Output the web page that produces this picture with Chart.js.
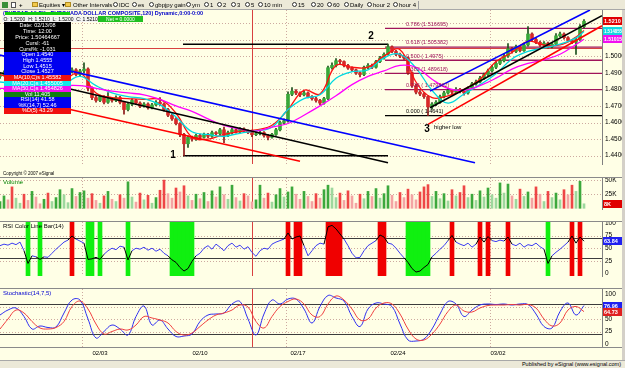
<!DOCTYPE html>
<html>
<head>
<meta charset="utf-8">
<script src="https://cdn.jsdelivr.net/npm/chart.js@4.4.1/dist/chart.umd.min.js"></script>
<style>
  body { margin: 0; width: 625px; height: 368px; overflow: hidden; position: relative;
         background: #FFFFE6; font-family: "Liberation Sans", Arial, sans-serif; }
  .a { position: absolute; white-space: nowrap; }
  canvas { position: absolute; left: 0; }
  #toolbar { left: 0; top: 0; width: 625px; height: 10px; background: #ECE9D8; border-bottom: 1px solid #A8A8A8; box-sizing: border-box; }
  .clk { position: absolute; top: 2px; width: 5px; height: 5px; border: 1px solid #333; border-radius: 50%; background: #fff; box-sizing: border-box; }
  .fld { position: absolute; top: 2px; width: 6px; height: 5px; background: #F2C94C; border: 1px solid #B08A20; box-sizing: border-box; }
  .tbt { position: absolute; top: 1px; font-size: 6px; line-height: 8px; color: #000; }
  .dw { left: 4px; width: 67px; font-size: 5.5px; color: #fff; text-align: center; overflow: hidden; }
  .sep { position: absolute; left: 0; width: 622px; height: 1px; background: #8A8A8A; }
</style>
</head>
<body>
<canvas id="price" width="625" height="167" style="top:10px"></canvas>
<canvas id="volume" width="625" height="44" style="top:178px"></canvas>
<canvas id="rsi" width="625" height="67" style="top:222px"></canvas>
<canvas id="stoch" width="625" height="71" style="top:289px"></canvas>

<div class="sep" style="top:177px"></div>
<div class="sep" style="top:221px"></div>
<div class="sep" style="top:288px"></div>
<div class="sep" style="top:347px"></div>
<div class="a" style="left:622px;top:10px;width:3px;height:350px;background:#D4D0C8"></div>

<div id="toolbar" class="a">
  <div class="a" style="left:2px;top:2px;width:6px;height:6px;background:#3A8F3A"></div>
  <div class="a" style="left:11px;top:2px;width:5px;height:6px;background:#fff;border:1px solid #555;box-sizing:border-box"></div>
  <div class="tbt" style="left:19px;font-weight:bold">+</div>
  <div class="fld" style="left:32px"></div><div class="tbt" style="left:39px">Equities ▾</div>
  <div class="fld" style="left:65px"></div><div class="tbt" style="left:73px">Other Intervals ▾</div>
  <div class="clk" style="left:113px"></div><div class="tbt" style="left:119px">IDC</div>
  <div class="clk" style="left:132px"></div><div class="tbt" style="left:138px">es</div>
  <div class="clk" style="left:149px"></div><div class="tbt" style="left:155px">gbpjpy gain</div>
  <div class="clk" style="left:186px"></div><div class="tbt" style="left:192px">ym</div>
  <div class="clk" style="left:204px"></div><div class="tbt" style="left:210px">1</div>
  <div class="clk" style="left:217px"></div><div class="tbt" style="left:223px">2</div>
  <div class="clk" style="left:231px"></div><div class="tbt" style="left:237px">3</div>
  <div class="clk" style="left:245px"></div><div class="tbt" style="left:251px">5</div>
  <div class="clk" style="left:258px"></div><div class="tbt" style="left:264px">10 min</div>
  <div class="clk" style="left:292px"></div><div class="tbt" style="left:298px">15</div>
  <div class="clk" style="left:311px"></div><div class="tbt" style="left:317px">20</div>
  <div class="clk" style="left:327px"></div><div class="tbt" style="left:333px">60</div>
  <div class="clk" style="left:344px"></div><div class="tbt" style="left:350px">Daily</div>
  <div class="clk" style="left:367px"></div><div class="tbt" style="left:373px">hour 2</div>
  <div class="clk" style="left:393px"></div><div class="tbt" style="left:399px">hour 4</div>
  <div class="a" style="left:418px;top:1px;width:1px;height:8px;background:#A0A0A0"></div>
</div>

<!-- title line and OHLC strip -->
<div class="a" style="left:3px;top:10px;width:67px;overflow:hidden;font-size:5.5px;font-weight:bold;color:#0000C8;line-height:7px">(EURCAD A0-FX - EURO/CAN</div>
<div class="a" style="left:70px;top:10px;font-size:5.5px;font-weight:bold;color:#0000C8;line-height:7px">ADA DOLLAR COMPOSITE,120) Dynamic,0:00-0:00</div>
<div class="a" style="left:5px;top:12px;width:65px;height:3px;background:#10D010"></div>
<div class="a" style="left:2px;top:16px;width:96px;height:6px;background:#F4F4F4;font-size:5px;line-height:6px;color:#000">&nbsp;O: 1.5200 &nbsp;H: 1.5210 &nbsp;L: 1.5200 &nbsp;C: 1.5210</div>
<div class="a" style="left:98px;top:16px;width:45px;height:6px;background:#20C020;font-size:5px;line-height:6px;color:#fff;text-align:center">Net = 0.0000</div>

<!-- data window -->
<div class="a dw" style="top:22px;height:30px;background:#000;line-height:6px">Date: 02/13/08<br>Time: 12:00<br>Price: 1.50464667<br>Cursl: -61<br>Cursl%: -1.031</div>
<div class="a dw" style="top:52px;height:23px;background:#0000F0;line-height:5.75px">Open 1.4540<br>High 1.4555<br>Low 1.4515<br>Close 1.4527</div>
<div class="a dw" style="top:75px;height:5.5px;background:#F01010;line-height:5.5px">MA(10,C)s 1.45582</div>
<div class="a dw" style="top:80.5px;height:5.5px;background:#10E8E8;line-height:5.5px">MA(20,C)s 1.455005</div>
<div class="a dw" style="top:86px;height:5.5px;background:#F010F0;line-height:5.5px">MA(50,C)s 1.454826</div>
<div class="a dw" style="top:91.5px;height:5.5px;background:#108010;line-height:5.5px">Vol 11,405</div>
<div class="a dw" style="top:97px;height:11px;background:#0000F0;line-height:5.5px">RSI(14) 41.58<br>%K(14,7) 52.46</div>
<div class="a dw" style="top:108px;height:5.5px;background:#F01010;line-height:5.5px">%D(5) 43.29</div>

<div class="a" style="left:3px;top:171px;font-size:4.5px;color:#000">Copyright © 2007 eSignal</div>
<div class="a" style="left:3px;top:179px;font-size:6px;color:#008000">Volume</div>
<div class="a" style="left:3px;top:223px;font-size:6px;color:#000">RSI Color Line Bar(14)</div>
<div class="a" style="left:3px;top:290px;font-size:6px;color:#0000D0">Stochastic(14,7,5)</div>

<div class="a" style="left:0;top:360px;width:625px;height:8px;background:#ECE9D8;border-top:1px solid #A8A8A8;box-sizing:border-box"></div>
<div class="a" style="right:4px;top:361px;font-size:5.5px;line-height:7px;color:#000">Published by eSignal (www.esignal.com)</div>

<script>
// ---- price bars (120 min), one value per bar ----
const opens = [
  1.4878,1.4889,1.4900,1.4878,1.4861,1.4889,1.4906,1.4872,1.4844,1.4856,
  1.4833,1.4817,1.4828,1.4806,1.4822,1.4844,1.4867,1.4889,1.4906,1.4917,
  1.4889,1.4911,1.4922,1.4806,1.4750,1.4733,1.4756,1.4722,1.4744,1.4733,
  1.4750,1.4722,1.4678,1.4711,1.4733,1.4717,1.4700,1.4711,1.4689,1.4706,
  1.4722,1.4711,1.4678,1.4644,1.4622,1.4594,1.4528,1.4472,1.4511,1.4500,
  1.4522,1.4511,1.4528,1.4517,1.4539,1.4533,1.4556,1.4522,1.4539,1.4556,
  1.4544,1.4561,1.4550,1.4540,1.4527,1.4533,1.4539,1.4522,1.4511,1.4528,
  1.4556,1.4600,1.4611,1.4770,1.4789,1.4778,1.4767,1.4778,1.4756,1.4744,
  1.4733,1.4717,1.4744,1.4930,1.4944,1.4972,1.4967,1.4944,1.4928,1.4917,
  1.4900,1.4889,1.4933,1.4944,1.4933,1.4967,1.4989,1.5011,1.5056,1.5028,
  1.5011,1.5000,1.4989,1.4900,1.4822,1.4783,1.4772,1.4756,1.4694,1.4711,
  1.4722,1.4756,1.4778,1.4794,1.4783,1.4800,1.4789,1.4778,1.4806,1.4833,
  1.4844,1.4867,1.4889,1.4911,1.4933,1.4956,1.4972,1.5000,1.5044,1.5028,
  1.5056,1.5033,1.5067,1.5133,1.5100,1.5083,1.5067,1.5078,1.5056,1.5072,
  1.5122,1.5133,1.5111,1.5094,1.5083,1.5100,1.5178
];
const highs = [
  1.4900,1.4912,1.4908,1.4885,1.4897,1.4918,1.4910,1.4878,1.4866,1.4860,
  1.4840,1.4836,1.4832,1.4830,1.4850,1.4875,1.4895,1.4915,1.4930,1.4925,
  1.4920,1.4960,1.4930,1.4815,1.4762,1.4765,1.4762,1.4780,1.4752,1.4760,
  1.4758,1.4728,1.4720,1.4742,1.4740,1.4725,1.4720,1.4718,1.4715,1.4732,
  1.4750,1.4718,1.4685,1.4652,1.4630,1.4600,1.4535,1.4520,1.4518,1.4530,
  1.4530,1.4536,1.4535,1.4548,1.4545,1.4565,1.4572,1.4548,1.4565,1.4562,
  1.4570,1.4568,1.4556,1.4555,1.4542,1.4548,1.4545,1.4528,1.4535,1.4565,
  1.4608,1.4622,1.4785,1.4810,1.4798,1.4785,1.4790,1.4785,1.4762,1.4752,
  1.4740,1.4752,1.4940,1.4960,1.4985,1.4980,1.4972,1.4950,1.4935,1.4922,
  1.4906,1.4940,1.4955,1.4952,1.4975,1.4998,1.5020,1.5072,1.5062,1.5035,
  1.5018,1.5006,1.4995,1.4906,1.4830,1.4792,1.4780,1.4762,1.4720,1.4732,
  1.4765,1.4788,1.4806,1.4800,1.4810,1.4806,1.4795,1.4815,1.4842,1.4856,
  1.4878,1.4898,1.4922,1.4945,1.4966,1.4982,1.5012,1.5075,1.5052,1.5066,
  1.5062,1.5078,1.5178,1.5140,1.5108,1.5090,1.5088,1.5085,1.5082,1.5135,
  1.5145,1.5140,1.5118,1.5100,1.5108,1.5190,1.5220
];
const lows = [
  1.4865,1.4880,1.4870,1.4850,1.4855,1.4882,1.4865,1.4835,1.4838,1.4825,
  1.4808,1.4810,1.4798,1.4800,1.4815,1.4838,1.4860,1.4880,1.4898,1.4880,
  1.4882,1.4900,1.4790,1.4738,1.4722,1.4725,1.4712,1.4715,1.4722,1.4725,
  1.4712,1.4650,1.4670,1.4702,1.4708,1.4690,1.4692,1.4680,1.4682,1.4700,
  1.4702,1.4668,1.4635,1.4612,1.4585,1.4515,1.4400,1.4450,1.4488,1.4492,
  1.4502,1.4505,1.4508,1.4510,1.4524,1.4527,1.4478,1.4515,1.4530,1.4535,
  1.4538,1.4542,1.4532,1.4515,1.4520,1.4525,1.4512,1.4495,1.4505,1.4522,
  1.4550,1.4592,1.4602,1.4762,1.4768,1.4756,1.4760,1.4748,1.4735,1.4722,
  1.4706,1.4710,1.4738,1.4922,1.4935,1.4955,1.4935,1.4920,1.4908,1.4890,
  1.4875,1.4882,1.4925,1.4925,1.4928,1.4960,1.4982,1.5005,1.5020,1.5002,
  1.4990,1.4980,1.4890,1.4812,1.4772,1.4762,1.4745,1.4641,1.4680,1.4702,
  1.4715,1.4748,1.4770,1.4772,1.4775,1.4778,1.4765,1.4770,1.4800,1.4825,
  1.4838,1.4860,1.4880,1.4903,1.4925,1.4948,1.4965,1.4992,1.5018,1.5020,
  1.5025,1.5028,1.5060,1.5092,1.5075,1.5058,1.5060,1.5048,1.5050,1.5066,
  1.5115,1.5102,1.5086,1.5075,1.5010,1.5095,1.5170
];
const closes = [
  1.4889,1.4900,1.4878,1.4861,1.4889,1.4906,1.4872,1.4844,1.4856,1.4833,
  1.4817,1.4828,1.4806,1.4822,1.4844,1.4867,1.4889,1.4906,1.4917,1.4889,
  1.4911,1.4922,1.4806,1.4750,1.4733,1.4756,1.4722,1.4744,1.4733,1.4750,
  1.4722,1.4678,1.4711,1.4733,1.4717,1.4700,1.4711,1.4689,1.4706,1.4722,
  1.4711,1.4678,1.4644,1.4622,1.4594,1.4528,1.4472,1.4511,1.4500,1.4522,
  1.4511,1.4528,1.4517,1.4539,1.4533,1.4556,1.4522,1.4539,1.4556,1.4544,
  1.4561,1.4550,1.4540,1.4527,1.4533,1.4539,1.4522,1.4511,1.4528,1.4556,
  1.4600,1.4611,1.4770,1.4789,1.4778,1.4767,1.4778,1.4756,1.4744,1.4733,
  1.4717,1.4744,1.4930,1.4944,1.4972,1.4967,1.4944,1.4928,1.4917,1.4900,
  1.4889,1.4933,1.4944,1.4933,1.4967,1.4989,1.5011,1.5056,1.5028,1.5011,
  1.5000,1.4989,1.4900,1.4822,1.4783,1.4772,1.4756,1.4694,1.4711,1.4722,
  1.4756,1.4778,1.4794,1.4783,1.4800,1.4789,1.4778,1.4806,1.4833,1.4844,
  1.4867,1.4889,1.4911,1.4933,1.4956,1.4972,1.5000,1.5044,1.5028,1.5056,
  1.5033,1.5067,1.5133,1.5100,1.5083,1.5067,1.5078,1.5056,1.5072,1.5122,
  1.5133,1.5111,1.5094,1.5083,1.5100,1.5178,1.5210
];
// volume in thousands
const volumes = [
  12,22,15,38,18,9,25,14,30,20,
  8,16,27,12,19,33,24,10,35,21,
  28,31,18,26,14,9,22,30,16,12,
  24,18,47,20,11,27,15,23,9,19,
  32,50,26,18,36,29,40,22,14,25,
  17,28,12,31,20,38,24,16,41,19,
  13,26,22,11.4,15,41,18,27,11,24,
  35,20,29,38,25,16,30,21,12,26,
  18,33,41,36,19,27,14,31,22,9,
  25,17,30,21,35,18,26,40,23,12,
  28,19,34,24,15,29,38,42,21,30,
  17,26,13,33,22,28,40,19,25,14,
  31,20,36,24,18,45,27,43,22,16,
  34,21,29,18,38,25,12,30,19,27,
  15,33,24,41,30,48,8
];
const rsi = [
  55,58,56,60,57,62,45,20,35,33,
  28,33,32,40,48,55,62,66,74,68,
  64,60,28,29,32,28,38,45,50,47,
  54,52,27,45,50,48,52,46,50,44,
  48,40,35,27,22,12,5,10,24,35,
  40,50,55,48,58,52,45,55,60,52,
  56,48,53,41.58,34,45,50,48,58,62,
  65,68,80,68,72,74,55,35,45,55,
  60,58,92,95,88,78,68,55,40,31,
  32,45,55,60,65,76,72,60,58,50,
  40,31,22,10,3,5,12,18,33,40,
  48,55,65,75,62,58,55,60,52,58,
  72,62,73,65,63,66,64,72,58,55,
  60,52,57,55,60,53,48,20,35,42,
  48,55,62,74,60,72,63.84
];
// stochastic, one value every second bar
const stochK = [
  58,68,72,55,30,36,33,34,62,88,
  88,50,12,25,38,30,18,55,76,38,
  48,30,15,16,20,45,58,60,62,80,
  85,50,18,60,88,80,90,90,70,42,
  75,97,92,86,55,35,70,82,80,75,
  40,8,6,10,30,60,85,80,55,68,
  78,80,79,80,78,80,79,60,35,32,
  65,82,58,76.96
];
const stochD = [
  30,50,68,62,45,32,30,33,45,75,
  86,70,40,20,25,30,28,38,55,52,
  48,42,25,18,22,35,48,58,62,68,
  78,74,45,32,55,75,85,90,80,58,
  55,80,96,88,70,48,50,72,82,80,
  60,30,10,8,20,40,65,78,66,64,
  72,77,78,78,79,78,79,72,50,36,
  42,68,75,64.73
];
// moving averages, one value every fourth bar (last one on the final bar)
const ma10 = [
  1.4889,1.4861,1.4844,1.4833,1.4856,1.4900,1.4778,1.4750,1.4744,1.4739,
  1.4739,1.4656,1.4511,1.4500,1.4528,1.4545,1.4556,1.4583,1.4678,1.4794,
  1.4772,1.4944,1.4933,1.4933,1.5000,1.5039,1.4844,1.4750,1.4761,1.4800,
  1.4861,1.4967,1.5022,1.5089,1.5067,1.5067,1.5115,1.5155
];
const ma20 = [
  1.4844,1.4833,1.4822,1.4817,1.4833,1.4878,1.4822,1.4778,1.4756,1.4744,
  1.4706,1.4633,1.4544,1.4528,1.4517,1.4535,1.4550,1.4572,1.4678,1.4744,
  1.4767,1.4867,1.4906,1.4917,1.4989,1.5011,1.4928,1.4794,1.4717,1.4772,
  1.4828,1.4894,1.4983,1.5028,1.5050,1.5072,1.5110,1.514855
];
const ma50 = [
  1.4806,1.4806,1.4811,1.4817,1.4822,1.4822,1.4806,1.4789,1.4778,1.4767,
  1.4739,1.4700,1.4667,1.4622,1.4583,1.4560,1.4548,1.4572,1.4594,1.4644,
  1.4700,1.4761,1.4828,1.4878,1.4911,1.4944,1.4933,1.4861,1.4806,1.4794,
  1.4822,1.4867,1.4922,1.4956,1.4978,1.5011,1.5070,1.51015
];

// axes
const dateBars = [25, 50, 74.5, 99.5, 124.5];
const dateLabels = ['02/03', '02/10', '02/17', '02/24', '03/02'];
const gridBars = [20.5, 71.5, 122.5];
const priceTicks = [1.44, 1.45, 1.46, 1.47, 1.48, 1.49, 1.50, 1.51, 1.52];
const volTicks = [25, 50];
const oscTicks = [0, 25, 50, 75, 100];

// drawn studies: [bar, price] end points
const blueDown = [[0, 1.5006], [118.75, 1.4358]];
const blackDown = [[0, 1.4900], [97, 1.4358]];
const redDown = [[12, 1.4709], [75, 1.4367]];
const blueUp = [[107.5, 1.4789], [147.5, 1.5278]];
const blackUp = [[107.5, 1.4689], [150.5, 1.5244]];
const redUp = [[107, 1.4589], [150.5, 1.5183]];
const low1Line = [[45.75, 1.4400], [97, 1.4400]];
const high2Line = [[45.75, 1.5072], [97, 1.5072]];
const fibStart = 96.25;
const fibPrices = [1.516695, 1.505382, 1.4975, 1.489618, 1.479862, 1.4641];
const fibLabels = ['0.786 (1.516695)', '0.618 (1.505382)', '0.500 ( 1.4975)', '0.382 (1.489618)', '0.236 ( 1.479862)', '0.000 ( 1.4641)'];
const cursorBar = 63;
const cursorPrice = 1.50464667;

const FONT = 'Liberation Sans';
const xMax = 150.5;
Chart.defaults.font.family = FONT;
Chart.defaults.animation = false;
Chart.defaults.events = [];
Chart.defaults.plugins.legend.display = false;
Chart.defaults.plugins.tooltip.enabled = false;

const bars = closes.map((c, i) => i);
const stochBars = stochK.map((v, j) => j * 2);
const maBars = ma10.map((v, k) => Math.min(k * 4, closes.length - 1));

function hline(ctx, x1, y1, x2, y2) {
  ctx.beginPath(); ctx.moveTo(x1, y1); ctx.lineTo(x2, y2); ctx.stroke();
}

const decor = {
  id: 'decor',
  beforeDatasetsDraw(chart, args, o) {
    const { ctx, chartArea: a, scales: { x, y } } = chart;
    ctx.save();
    ctx.beginPath(); ctx.rect(a.left, a.top, a.right - a.left, a.bottom - a.top); ctx.clip();
    ctx.lineWidth = 1;
    ctx.strokeStyle = '#CDAAA0';
    ctx.setLineDash([1, 2]);
    (o.hgrid || []).forEach(v => { const p = Math.round(y.getPixelForValue(v)) + 0.5; hline(ctx, a.left, p, a.right, p); });
    gridBars.forEach(b => { const p = Math.round(x.getPixelForValue(b)) + 0.5; hline(ctx, p, a.top, p, a.bottom); });
    ctx.setLineDash([]);
    ctx.strokeStyle = '#3C3C3C';
    (o.levels || []).forEach(v => { const p = Math.round(y.getPixelForValue(v)) + 0.5; hline(ctx, a.left, p, a.right, p); });
    ctx.strokeStyle = '#D84040';
    if (o.hcursor) { const p = Math.round(y.getPixelForValue(o.hcursor)) + 0.5; hline(ctx, a.left, p, a.right, p); }
    const c = Math.round(x.getPixelForValue(cursorBar)) + 0.5;
    hline(ctx, c, a.top, c, a.bottom);
    ctx.restore();
  },
  afterDraw(chart, args, o) {
    const { ctx, chartArea: a, scales: { x, y } } = chart;
    ctx.save();
    (o.texts || []).forEach(t => {
      ctx.font = t.font; ctx.fillStyle = t.color;
      ctx.textAlign = t.align || 'left'; ctx.textBaseline = t.base || 'middle';
      ctx.fillText(t.text, x.getPixelForValue(t.x), y.getPixelForValue(t.y) + (t.dy || 0));
    });
    (o.boxes || []).forEach(b => {
      const p = Math.round(y.getPixelForValue(b.value));
      ctx.fillStyle = b.bg; ctx.fillRect(a.right + 1, p - 4, 20, 8);
      ctx.fillStyle = b.fg; ctx.font = 'bold 5.5px ' + FONT;
      ctx.textAlign = 'left'; ctx.textBaseline = 'middle';
      ctx.fillText(b.text, a.right + 2, p + 0.5, 18);
    });
    ctx.restore();
  }
};

function xAxis(show) {
  return {
    type: 'linear', min: 0, max: xMax, offset: false, display: show,
    grid: { display: false, drawTicks: false }, border: { display: false },
    afterBuildTicks: s => { s.ticks = dateBars.map(v => ({ value: v })); },
    ticks: { autoSkip: false, maxRotation: 0, padding: 3, color: '#000', font: { size: 6 },
             callback: (v, i) => dateLabels[i] },
    afterFit: s => { s.height = 13; s.paddingLeft = 0; s.paddingRight = 0; }
  };
}
function yAxis(min, max, ticks, fmt) {
  return {
    type: 'linear', position: 'right', min: min, max: max,
    grid: { display: false, drawTicks: false },
    border: { display: true, color: '#808080' },
    afterBuildTicks: s => { s.ticks = ticks.map(v => ({ value: v })); },
    ticks: { padding: 3, color: '#000', font: { size: 6.5 }, callback: fmt },
    afterFit: s => { s.width = 23; s.paddingTop = 0; s.paddingBottom = 0; }
  };
}
function seg(pts, color, width, order) {
  return { type: 'line', order: order, data: pts.map(p => ({ x: p[0], y: p[1] })),
           borderColor: color, borderWidth: width, pointRadius: 0, tension: 0, fill: false };
}
function maLine(vals, color) {
  return { type: 'line', order: 3, data: maBars.map((b, k) => ({ x: b, y: vals[k] })),
           borderColor: color, borderWidth: 1.3, pointRadius: 0, tension: 0.4, fill: false };
}
const baseOpts = { responsive: false, maintainAspectRatio: false, layout: { padding: 0 } };

// ---- price panel ----
const up = i => closes[i] >= opens[i];
const fibSets = fibPrices.map((p, k) => seg([[fibStart, p], [xMax, p]], k === fibPrices.length - 1 ? '#000000' : '#A0145A', 1.3, 8));
const priceTexts = fibPrices.map((p, k) => ({ x: 101.5, y: p, dy: -1.5, text: fibLabels[k], base: 'bottom',
  color: k === fibPrices.length - 1 ? '#000' : '#A0145A', font: '5.5px ' + FONT }));
priceTexts.push(
  { x: 43.25, y: 1.4400, text: '1', color: '#000', font: 'bold 10px ' + FONT, align: 'center' },
  { x: 92.75, y: 1.5122, text: '2', color: '#000', font: 'bold 10px ' + FONT, align: 'center' },
  { x: 106.75, y: 1.4561, text: '3', color: '#000', font: 'bold 10px ' + FONT, align: 'center' },
  { x: 108.5, y: 1.4572, text: 'higher low', color: '#000', font: '6px ' + FONT }
);

new Chart(document.getElementById('price'), {
  type: 'bar',
  data: { datasets: [
    ...fibSets,
    seg(low1Line, '#000', 1.5, 7),
    seg(high2Line, '#000', 1.5, 7),
    { type: 'bar', order: 6, grouped: false, barThickness: 1,
      data: bars.map(i => ({ x: i, y: [lows[i], highs[i]] })),
      backgroundColor: bars.map(i => up(i) ? '#1C501C' : '#8C1818') },
    { type: 'bar', order: 5, grouped: false, barThickness: 3, minBarLength: 1,
      data: bars.map(i => ({ x: i, y: [opens[i], closes[i]] })),
      backgroundColor: bars.map(i => up(i) ? '#38A838' : '#D82828') },
    maLine(ma50, '#FF00FF'),
    maLine(ma20, '#00D8E0'),
    maLine(ma10, '#FF1010'),
    seg(blueDown, '#0000FF', 1.6, 1),
    seg(blackDown, '#000000', 1.6, 1),
    seg(redDown, '#FF0000', 1.6, 1),
    seg(blueUp, '#0000FF', 1.6, 1),
    seg(blackUp, '#000000', 1.6, 1),
    seg(redUp, '#FF0000', 1.6, 1)
  ]},
  options: { ...baseOpts,
    scales: { x: xAxis(false), y: yAxis(1.435, 1.52778, priceTicks, v => v.toFixed(4)) },
    plugins: { decor: {
      hgrid: priceTicks, hcursor: cursorPrice, texts: priceTexts,
      boxes: [
        { value: ma50[ma50.length - 1], text: String(ma50[ma50.length - 1]), bg: '#F010F0', fg: '#fff' },
        { value: ma20[ma20.length - 1], text: String(ma20[ma20.length - 1]), bg: '#10D8E0', fg: '#fff' },
        { value: closes[closes.length - 1], text: closes[closes.length - 1].toFixed(4), bg: '#E00000', fg: '#fff' }
      ] } } },
  plugins: [decor]
});

// ---- volume panel ----
const volColor = i => {
  const lighter = i > 0 && volumes[i] < volumes[i - 1];
  if (up(i)) return lighter ? '#9ED89E' : '#3CA83C';
  return lighter ? '#F4A4A4' : '#EE4646';
};
new Chart(document.getElementById('volume'), {
  type: 'bar',
  data: { datasets: [
    { type: 'bar', grouped: false, barThickness: 2, data: bars.map(i => ({ x: i, y: volumes[i] })),
      backgroundColor: bars.map(volColor) }
  ]},
  options: { ...baseOpts,
    scales: { x: xAxis(false), y: yAxis(-1.25, 53.75, volTicks, v => v + 'K') },
    plugins: { decor: { hgrid: volTicks,
      boxes: [{ value: volumes[volumes.length - 1], text: volumes[volumes.length - 1] + 'K', bg: '#E00000', fg: '#fff' }] } } },
  plugins: [decor]
});

// ---- RSI colour bar panel ----
const rsiMin = -4.76, rsiMax = 101.59;
const hot = v => v > 70 || v < 30;
const zoneBars = bars.filter(i => hot(rsi[i]));
new Chart(document.getElementById('rsi'), {
  type: 'bar',
  data: { datasets: [
    { type: 'bar', order: 5, grouped: false, barThickness: 4,
      data: zoneBars.map(i => ({ x: i, y: [rsiMin, rsiMax] })),
      backgroundColor: zoneBars.map(i => rsi[i] > 70 ? '#F00000' : '#10F010') },
    { type: 'line', order: 1, data: bars.map(i => ({ x: i, y: rsi[i] })),
      borderColor: '#3C3CF0', borderWidth: 1, pointRadius: 0, tension: 0, fill: false,
      segment: { borderColor: c => (hot(c.p0.parsed.y) || hot(c.p1.parsed.y)) ? '#000000' : '#3C3CF0' } }
  ]},
  options: { ...baseOpts,
    scales: { x: xAxis(false), y: yAxis(rsiMin, rsiMax, oscTicks, v => String(v)) },
    plugins: { decor: { hgrid: [25, 50, 75], levels: [30, 70],
      boxes: [{ value: rsi[rsi.length - 1], text: String(rsi[rsi.length - 1]), bg: '#2020F0', fg: '#fff' }] } } },
  plugins: [decor]
});

// ---- stochastic panel ----
new Chart(document.getElementById('stoch'), {
  type: 'line',
  data: { datasets: [
    { data: stochBars.map((b, j) => ({ x: b, y: stochD[j] })), borderColor: '#F04040', borderWidth: 1,
      pointRadius: 0, tension: 0.4, fill: false },
    { data: stochBars.map((b, j) => ({ x: b, y: stochK[j] })), borderColor: '#3030F0', borderWidth: 1,
      pointRadius: 0, tension: 0.4, fill: false }
  ]},
  options: { ...baseOpts,
    scales: { x: xAxis(true), y: yAxis(-6, 110, oscTicks, v => String(v)) },
    plugins: { decor: { hgrid: [25, 50, 75], levels: [20, 80],
      boxes: [
        { value: stochK[stochK.length - 1], text: String(stochK[stochK.length - 1]), bg: '#2020F0', fg: '#fff' },
        { value: stochD[stochD.length - 1], text: String(stochD[stochD.length - 1]), bg: '#E02020', fg: '#fff' }
      ] } } },
  plugins: [decor]
});
</script>
</body>
</html>
